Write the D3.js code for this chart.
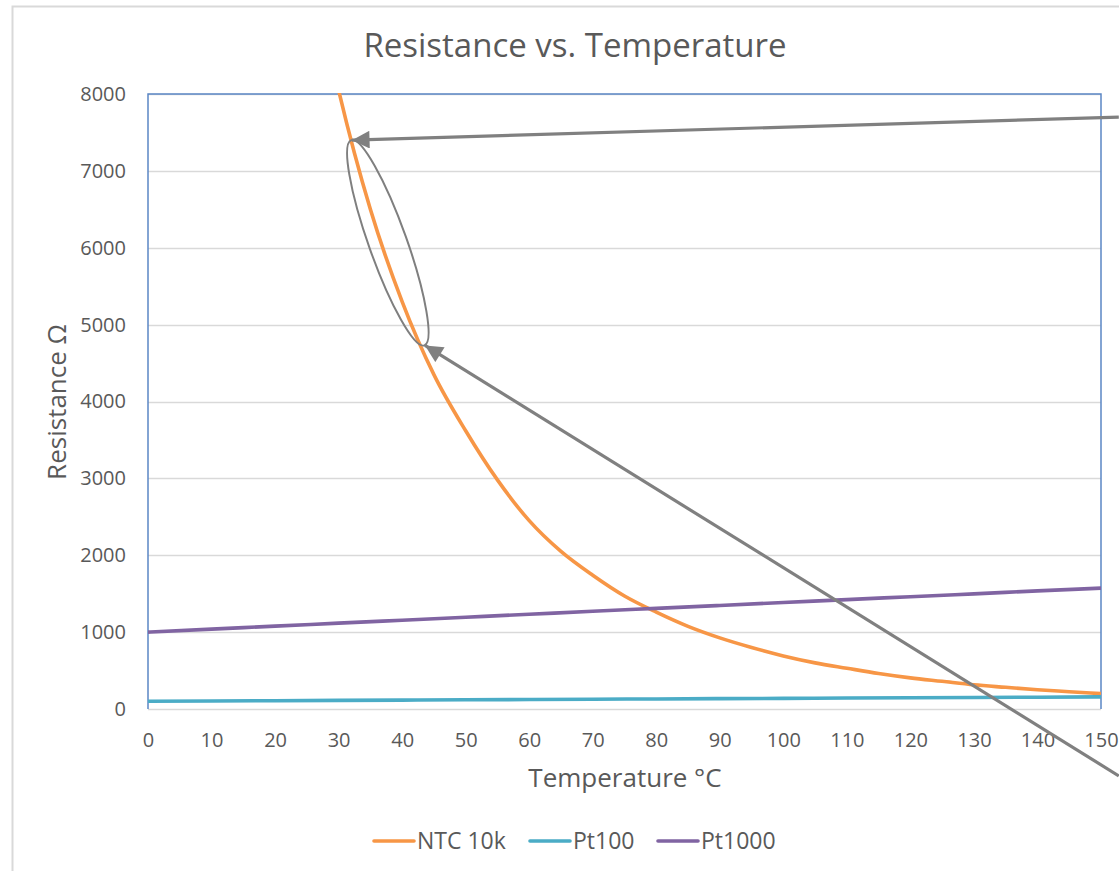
<!DOCTYPE html>
<html>
<head>
<meta charset="utf-8">
<script src="https://cdn.jsdelivr.net/npm/d3@7"></script>
<style>
  body { margin: 0; background: #fff; }
  svg text { font-family: "Open Sans", sans-serif; fill: #595959; }
</style>
</head>
<body>
<svg id="chart"></svg>
<script>
// temperatures (°C) and resistances (Ω)
var ntcTemp = [25, 30, 35, 40, 45, 50, 55, 60, 65, 70, 75, 80, 85, 90, 95, 100, 105, 110, 115, 120, 125, 130, 135, 140, 145, 150];
var ntcRes  = [10000, 8050, 6500, 5300, 4350, 3620, 2980, 2450, 2050, 1740, 1470, 1260, 1075, 925, 800, 690, 600, 530, 462, 405, 360, 315, 282, 250, 225, 200];

var ptTemp   = [0, 10, 20, 30, 40, 50, 60, 70, 80, 90, 100, 110, 120, 130, 140, 150];
var pt100Res = [100, 103.9, 107.8, 111.7, 115.5, 119.4, 123.2, 127.1, 130.9, 134.7, 138.5, 142.3, 146.1, 149.8, 153.6, 157.3];
var pt1000Res = [1000, 1039, 1078, 1117, 1155, 1194, 1232, 1271, 1309, 1347, 1385, 1423, 1461, 1498, 1536, 1573];

var xTicks = d3.range(0, 151, 10);
var yTicks = d3.range(0, 8001, 1000);

var seriesNames = ["NTC 10k", "Pt100", "Pt1000"];
var seriesColors = ["#F79646", "#4BACC6", "#8064A2"];

// annotations, in data units
var arrows = [
  {from: [152.8, 7700], to: [32.1, 7400]},
  {from: [152.8, -870], to: [43.6, 4730]}
];
var ellipseEnds = [[32.0, 7400], [43.5, 4730]];

var W = 1119, H = 871;
var margin = {top: 94, right: 18, bottom: 162, left: 148},
    width = W - margin.left - margin.right,
    height = H - margin.top - margin.bottom;

var svg = d3.select("#chart").attr("width", W).attr("height", H);

// outer chart border
svg.append("rect")
    .attr("x", 12.5).attr("y", 6.5)
    .attr("width", W + 20).attr("height", H + 20)
    .attr("fill", "none").attr("stroke", "#d9d9d9").attr("stroke-width", 2);

var g = svg.append("g")
    .attr("transform", "translate(" + margin.left + "," + margin.top + ")");

var x = d3.scaleLinear().domain([0, 150]).range([0, width]);
var y = d3.scaleLinear().domain([0, 8000]).range([height, 0]);

// gridlines
g.append("g")
    .selectAll("line")
    .data(yTicks)
    .enter().append("line")
    .attr("x1", 0).attr("x2", width)
    .attr("y1", function(d) { return Math.round(y(d)) + 0.5; })
    .attr("y2", function(d) { return Math.round(y(d)) + 0.5; })
    .attr("stroke", "#d9d9d9").attr("stroke-width", 1.5);

// plot border (blue left, top, right)
g.append("path")
    .attr("d", "M0," + height + "V0H" + width + "V" + height)
    .attr("fill", "none").attr("stroke", "#5B87C5").attr("stroke-width", 1.5);

// axis labels
var xAxis = g.append("g")
    .attr("transform", "translate(0," + height + ")")
    .call(d3.axisBottom(x).tickValues(xTicks).tickSize(0).tickPadding(24));
xAxis.select(".domain").remove();
xAxis.selectAll("text").style("font-size", "20px").attr("fill", "#595959");

var yAxis = g.append("g")
    .call(d3.axisLeft(y).tickValues(yTicks).tickFormat(d3.format("d")).tickSize(0).tickPadding(22));
yAxis.select(".domain").remove();
yAxis.selectAll("text").style("font-size", "20px").attr("fill", "#595959");

// clip
g.append("clipPath").attr("id", "clip")
    .append("rect").attr("x", 0).attr("y", -1).attr("width", width).attr("height", height + 2);

var line = d3.line()
    .x(function(d) { return x(d[0]); })
    .y(function(d) { return y(d[1]); })
    .curve(d3.curveMonotoneX);

var series = [
  d3.zip(ntcTemp, ntcRes),
  d3.zip(ptTemp, pt100Res),
  d3.zip(ptTemp, pt1000Res)
];

var lines = g.append("g").attr("clip-path", "url(#clip)");
lines.selectAll(".series")
    .data(series)
    .enter().append("path")
    .attr("class", "series")
    .attr("d", line)
    .attr("fill", "none")
    .attr("stroke", function(d, i) { return seriesColors[i]; })
    .attr("stroke-width", 3.6)
    .attr("stroke-linejoin", "round");

// annotation: ellipse + arrows
var e0 = [x(ellipseEnds[0][0]), y(ellipseEnds[0][1])],
    e1 = [x(ellipseEnds[1][0]), y(ellipseEnds[1][1])];
var ecx = (e0[0] + e1[0]) / 2, ecy = (e0[1] + e1[1]) / 2;
var erx = Math.hypot(e1[0] - e0[0], e1[1] - e0[1]) / 2;
var eang = Math.atan2(e1[1] - e0[1], e1[0] - e0[0]) * 180 / Math.PI;

g.append("ellipse")
    .attr("cx", 0).attr("cy", 0).attr("rx", erx).attr("ry", 19)
    .attr("transform", "translate(" + ecx + "," + ecy + ") rotate(" + eang + ")")
    .attr("fill", "none").attr("stroke", "#7f7f7f").attr("stroke-width", 2);

svg.append("defs").append("marker")
    .attr("id", "arrowhead")
    .attr("viewBox", "0 0 10 10")
    .attr("refX", 10).attr("refY", 5)
    .attr("markerWidth", 6).attr("markerHeight", 5.5)
    .attr("markerUnits", "strokeWidth")
    .attr("orient", "auto")
    .append("path").attr("d", "M0,0L10,5L0,10z").attr("fill", "#808080");

g.selectAll(".arrow")
    .data(arrows)
    .enter().append("line")
    .attr("class", "arrow")
    .attr("x1", function(d) { return x(d.from[0]); })
    .attr("y1", function(d) { return y(d.from[1]); })
    .attr("x2", function(d) { return x(d.to[0]); })
    .attr("y2", function(d) { return y(d.to[1]); })
    .attr("stroke", "#808080").attr("stroke-width", 3.2)
    .attr("marker-end", "url(#arrowhead)");

// titles
svg.append("text")
    .attr("x", 575).attr("y", 57)
    .attr("text-anchor", "middle")
    .style("font-size", "33px")
    .text("Resistance vs. Temperature");

svg.append("text")
    .attr("x", 625).attr("y", 787)
    .attr("text-anchor", "middle")
    .style("font-size", "26px")
    .text("Temperature °C");

svg.append("text")
    .attr("transform", "translate(66,402) rotate(-90)")
    .attr("text-anchor", "middle")
    .style("font-size", "26px")
    .text("Resistance Ω");

// legend
var legendX = [374, 530, 658];
var legend = svg.append("g").attr("transform", "translate(0,841)");
var items = legend.selectAll(".item")
    .data(seriesNames)
    .enter().append("g")
    .attr("transform", function(d, i) { return "translate(" + legendX[i] + ",0)"; });
items.append("line")
    .attr("x1", 0).attr("x2", 40)
    .attr("stroke", function(d, i) { return seriesColors[i]; })
    .attr("stroke-width", 3.6).attr("stroke-linecap", "round");
items.append("text")
    .attr("x", 43).attr("dy", "0.36em")
    .style("font-size", "23px")
    .text(function(d) { return d; });
</script>
</body>
</html>
